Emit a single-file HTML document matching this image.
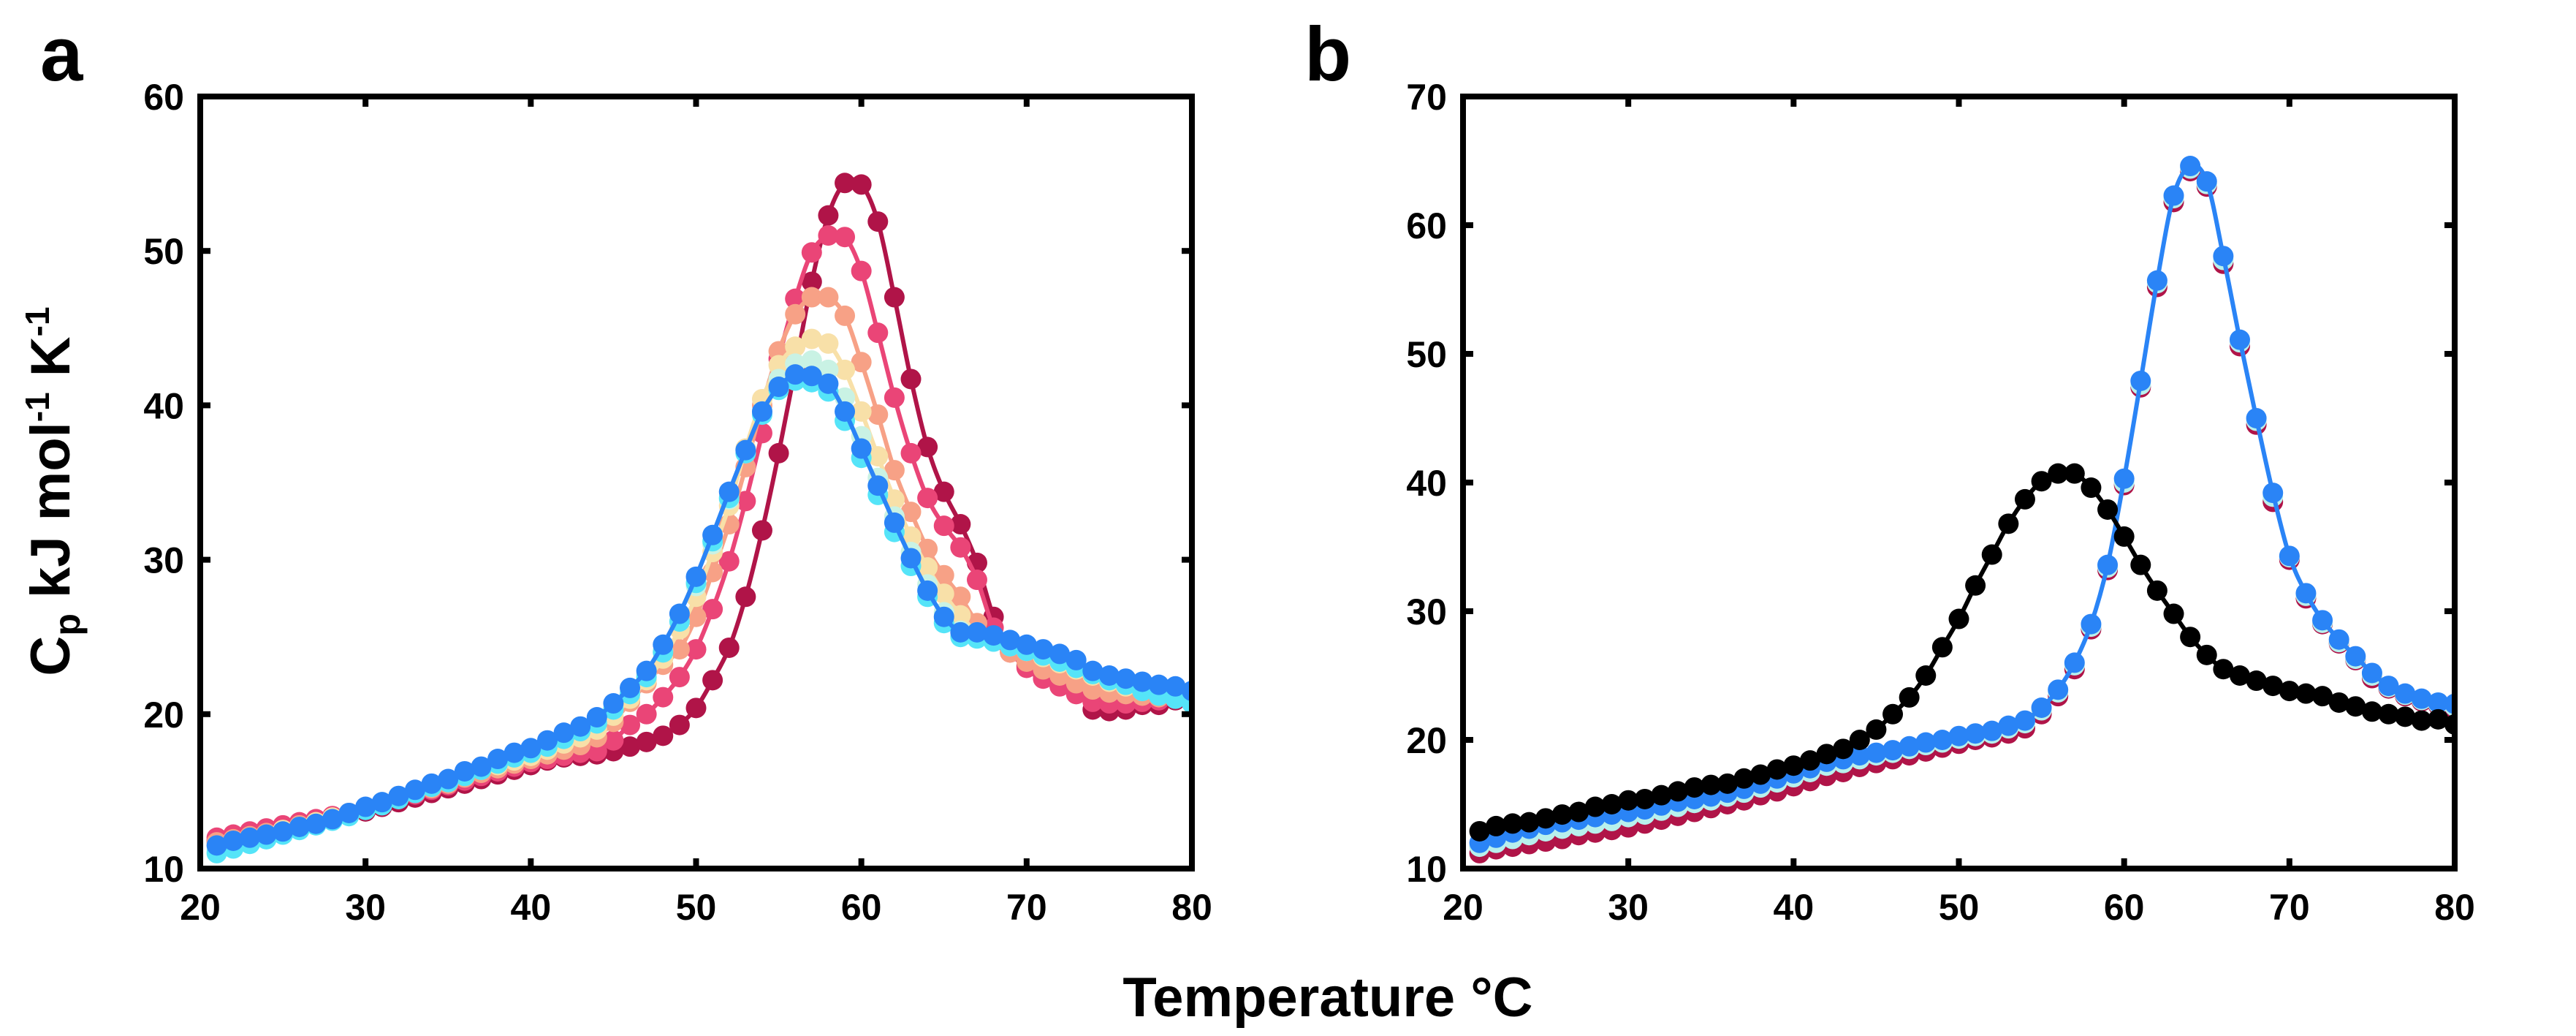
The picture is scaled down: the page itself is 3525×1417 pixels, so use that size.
<!DOCTYPE html>
<html><head><meta charset="utf-8"><style>
html,body{margin:0;padding:0;background:#fff}
svg{display:block}
.tk{font-family:"Liberation Sans Narrow","Liberation Sans",sans-serif;font-weight:bold;font-size:50px;fill:#000}
.big{font-family:"Liberation Sans",sans-serif;font-weight:bold;fill:#000}
</style></head><body>
<svg id="chart" width="3525" height="1417" viewBox="0 0 3525 1417" xmlns="http://www.w3.org/2000/svg">
<text class="big" x="55" y="110" font-size="105">a</text>
<text class="big" x="1785" y="110" font-size="105">b</text>
<text class="big" x="1817" y="1390" font-size="76" text-anchor="middle">Temperature °C</text>
<text class="big" transform="translate(95,672) rotate(-90)" font-size="76" text-anchor="middle">C<tspan font-size="50" dy="14">p</tspan><tspan dy="-14"> kJ mol</tspan><tspan font-size="46" dy="-28">-1</tspan><tspan dy="28"> K</tspan><tspan font-size="46" dy="-28">-1</tspan></text>
<g id="pa"></g>
<g id="pb"></g>
</svg>
<script>
const temps = [];
for (let t = 21; t <= 80; t++) temps.push(t);
const xTicks = [20,30,40,50,60,70,80];
const yTicksA = [10,20,30,40,50,60];
const yTicksB = [10,20,30,40,50,60,70];

const aCrimson = [11.8,12,12.2,12.4,12.6,12.8,13,13.2,13.5,13.7,14,14.3,14.6,14.9,15.2,15.5,15.8,16.1,16.4,16.7,17,17.2,17.3,17.4,17.6,17.9,18.2,18.6,19.3,20.4,22.2,24.3,27.6,31.9,36.9,42.4,48,52.3,54.4,54.3,51.9,47,41.7,37.3,34.4,32.3,29.8,26.3,24.2,23.1,22.5,22,21.5,20.3,20.2,20.3,20.6,20.6,20.9,21.2];
const aPink = [12,12.2,12.4,12.6,12.8,13,13.2,13.4,13.6,13.9,14.2,14.5,14.8,15.1,15.4,15.7,16,16.3,16.6,16.9,17.1,17.3,17.5,17.6,18.3,19.3,20,21.1,22.4,24.2,26.8,29.9,33.8,38.2,43,46.9,49.9,51,50.9,48.7,44.7,40.5,36.9,34,32.2,30.8,28.7,25.6,24,23,22.3,21.8,21.3,20.8,20.7,20.7,20.8,20.9,21,21.2];
const aSalmon = [11.7,11.9,12.1,12.3,12.5,12.8,13,13.3,13.6,13.9,14.2,14.6,14.9,15.2,15.5,15.9,16.2,16.5,16.8,17.1,17.4,17.7,18,18.5,19.5,20.8,22,23.2,24.2,26.3,29.2,32.3,36,40,43.5,45.9,47,47,45.8,42.8,39.4,35.8,33.1,30.7,29,27.6,25.9,24.8,24,23.4,22.9,22.5,22,21.6,21.4,21.3,21.2,21.1,21.1,21];
const aYellow = [11.5,11.8,12,12.2,12.5,12.7,13,13.3,13.6,13.9,14.2,14.6,15,15.3,15.7,16,16.4,16.7,17,17.3,17.7,18.1,18.5,19,19.9,21,22.2,23.6,25.5,27.6,30.5,33.5,37.2,40.4,42.6,43.8,44.3,44,42.3,39.6,36.7,33.9,31.5,29.5,27.8,26.4,25.3,24.9,24.5,24.1,23.7,23.3,22.9,22.5,22.1,21.8,21.5,21.3,21.1,21];
const aMint = [11.2,11.5,11.8,12.1,12.4,12.7,12.9,13.2,13.6,13.9,14.3,14.7,15,15.4,15.7,16.1,16.5,16.9,17.3,17.6,18,18.5,19,19.5,20.4,21.4,22.6,24.1,26,28.3,31,33.9,36.9,39.6,41.7,42.7,42.9,42.3,40.5,38,35.3,32.8,30.5,28.4,26.6,25.4,25,24.7,24.4,24.1,23.8,23.4,23,22.6,22.3,22,21.7,21.4,21.1,20.9];
const aCyan = [11,11.3,11.6,11.9,12.2,12.5,12.8,13.1,13.4,13.8,14.1,14.5,14.9,15.3,15.6,16,16.4,16.8,17.2,17.5,17.9,18.4,18.9,19.4,20.3,21.3,22.4,24,26,28.5,31.2,34,36.9,39.4,41,41.6,41.5,40.9,39,36.6,34.2,31.8,29.6,27.6,25.9,25,24.9,24.7,24.4,24.1,23.8,23.4,23,22.6,22.2,21.9,21.5,21.2,21,20.7];
const aBlue = [11.5,11.8,12,12.2,12.4,12.7,12.9,13.2,13.6,14,14.3,14.7,15.1,15.5,15.8,16.3,16.6,17.1,17.5,17.8,18.3,18.8,19.2,19.8,20.7,21.7,22.8,24.5,26.5,28.9,31.6,34.4,37.1,39.6,41.2,42,41.9,41.4,39.6,37.2,34.8,32.4,30.1,28,26.3,25.3,25.3,25.1,24.8,24.5,24.2,23.9,23.5,22.8,22.5,22.3,22.1,21.9,21.8,21.5];

const bBlack = [12.9,13.3,13.5,13.6,13.9,14.2,14.4,14.8,15,15.3,15.4,15.7,16,16.3,16.5,16.6,17,17.3,17.7,18,18.4,18.9,19.3,20,20.8,22,23.3,25,27.2,29.4,32,34.4,36.8,38.7,40.1,40.7,40.7,39.6,37.9,35.8,33.6,31.6,29.8,28,26.6,25.5,25,24.6,24.2,23.8,23.6,23.4,22.9,22.6,22.2,22,21.8,21.5,21.6,21.2];
const bCrimson = [11.2,11.5,11.7,11.9,12.1,12.3,12.6,12.8,13,13.2,13.5,13.8,14.1,14.4,14.7,15,15.3,15.7,16,16.4,16.8,17.2,17.5,17.9,18.2,18.5,18.8,19.1,19.4,19.7,20,20.2,20.5,20.9,22,23.4,25.5,28.6,33.2,39.8,47.4,55.2,61.8,64.2,63,57,50.6,44.5,38.5,34,31,29,27.5,26.2,24.8,24,23.4,23,22.7,22.4];
const bMint = [11.7,12,12.3,12.6,12.9,13.1,13.3,13.5,13.7,14,14.2,14.5,14.8,15.1,15.3,15.6,15.9,16.3,16.7,17.1,17.5,18,18.2,18.5,18.8,19,19.3,19.6,19.8,20.1,20.3,20.5,20.9,21.3,22.3,23.7,25.8,28.8,33.4,40,47.6,55.5,62.1,64.4,63.2,57.3,50.9,44.8,38.9,34.2,31.2,29.1,27.6,26.3,25,24.1,23.5,23.1,22.8,22.6];
const bBlue = [12,12.4,12.8,13.1,13.4,13.6,13.8,14,14.2,14.4,14.6,14.9,15.2,15.4,15.6,15.9,16.2,16.6,17,17.4,17.8,18.3,18.5,18.8,19,19.2,19.5,19.8,20,20.3,20.5,20.7,21.1,21.5,22.5,23.9,26,29,33.6,40.3,47.9,55.7,62.3,64.6,63.4,57.6,51.1,45,39.2,34.3,31.4,29.3,27.8,26.5,25.2,24.2,23.6,23.2,22.9,22.8];

const NS = 'http://www.w3.org/2000/svg';
function mk(tag, attrs, parent){const e=document.createElementNS(NS,tag);for(const k in attrs)e.setAttribute(k,attrs[k]);parent.appendChild(e);return e;}

function smoothPath(pts){
  let d='M'+pts[0][0]+','+pts[0][1];
  for(let i=0;i<pts.length-1;i++){
    const p0=pts[i-1]||pts[i],p1=pts[i],p2=pts[i+1],p3=pts[i+2]||p2;
    const c1=[p1[0]+(p2[0]-p0[0])/6,p1[1]+(p2[1]-p0[1])/6];
    const c2=[p2[0]-(p3[0]-p1[0])/6,p2[1]-(p3[1]-p1[1])/6];
    d+='C'+c1[0]+','+c1[1]+' '+c2[0]+','+c2[1]+' '+p2[0]+','+p2[1];
  }
  return d;
}

function panel(g, L, R, T, B, ymin, ymax, yTicks, series, name){
  const xs = v => L + (v-20)/(80-20)*(R-L);
  const ys = v => B - (v-ymin)/(ymax-ymin)*(B-T);
  const clip = mk('clipPath',{id:'clip-'+name},g);
  mk('rect',{x:L,y:T,width:R-L,height:B-T},clip);
  series.forEach(s=>{
    const sg = mk('g',{'clip-path':'url(#clip-'+name+')'},g);
    
    
    const pts = temps.map((t,i)=>[xs(t),ys(s.v[i])]);
    if(s.line){
      const p = mk('path',{d:smoothPath(pts),fill:'none',stroke:s.c,'stroke-width':6},sg);
      
      
    }
    pts.forEach(pt=>{
      const c = mk('circle',{cx:pt[0],cy:pt[1],r:14,fill:s.c},sg);
      
      
    });
  });
  const fr = mk('rect',{x:L,y:T,width:R-L,height:B-T,fill:'none',stroke:'#000','stroke-width':8},g);
  
  
  xTicks.forEach(v=>{
    const x=xs(v);
    mk('line',{x1:x,x2:x,y1:B,y2:B-14,stroke:'#000','stroke-width':8},g);
    mk('line',{x1:x,x2:x,y1:T,y2:T+14,stroke:'#000','stroke-width':8},g);
    const t = mk('text',{x:x,y:B+70,'text-anchor':'middle',class:'tk'},g);
    t.textContent=v;
    
    
  });
  yTicks.forEach(v=>{
    const y=ys(v);
    mk('line',{x1:L,x2:L+14,y1:y,y2:y,stroke:'#000','stroke-width':8},g);
    mk('line',{x1:R,x2:R-14,y1:y,y2:y,stroke:'#000','stroke-width':8},g);
    const t = mk('text',{x:L-22,y:y+18,'text-anchor':'end',class:'tk'},g);
    t.textContent=v;
    
    
  });
}

panel(document.getElementById('pa'),274,1631,132,1188,10,60,yTicksA,[
  {id:'crimson',v:aCrimson,c:'#b01448',line:true},
  {id:'pink',v:aPink,c:'#ea4577',line:true},
  {id:'salmon',v:aSalmon,c:'#f7a186',line:true},
  {id:'yellow',v:aYellow,c:'#f8e0a8',line:true},
  {id:'mint',v:aMint,c:'#c9f2e4',line:false},
  {id:'cyan',v:aCyan,c:'#55e4f8',line:false},
  {id:'blue',v:aBlue,c:'#2a84f6',line:true}
],'panel-a');

panel(document.getElementById('pb'),2002,3359,132,1188,10,70,yTicksB,[
  {id:'crimson',v:bCrimson,c:'#b01448',line:false},
  {id:'mint',v:bMint,c:'#b8f0ec',line:false},
  {id:'blue',v:bBlue,c:'#2a84f6',line:true},
  {id:'black',v:bBlack,c:'#000000',line:true}
],'panel-b');
</script>
</body></html>
